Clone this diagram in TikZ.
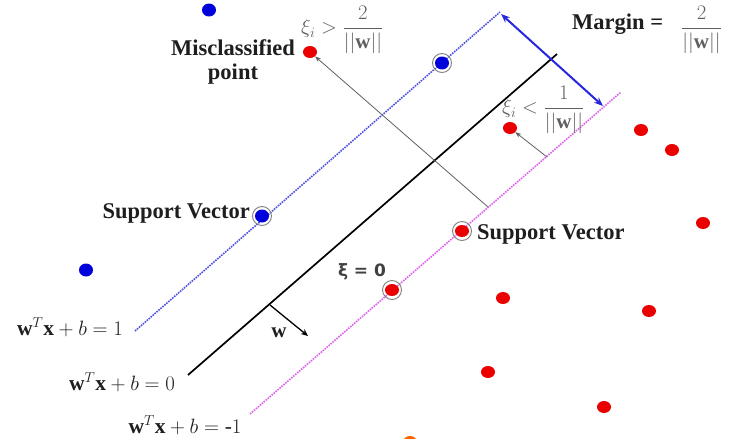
\documentclass[tikz,border=0pt]{standalone}
\usepackage{amsmath}
\usepackage{fontspec}
\setmainfont{Liberation Serif}
\newfontfamily\djsans{DejaVu Sans}
\usetikzlibrary{arrows.meta,shapes.geometric}
\definecolor{dotred}{RGB}{235,0,0}
\definecolor{dotblue}{RGB}{0,0,220}
\definecolor{linblue}{RGB}{80,80,225}
\definecolor{linmag}{RGB}{220,100,235}
\definecolor{mgrey}{RGB}{95,95,95}
\definecolor{txt}{RGB}{30,30,30}
\begin{document}
\begin{tikzpicture}[x=1pt,y=-1pt,
  reddot/.style={ellipse, fill=dotred, minimum width=14pt, minimum height=12pt, inner sep=0pt},
  bluedot/.style={ellipse, fill=dotblue, minimum width=14pt, minimum height=13pt, inner sep=0pt},
  ringed/.style={draw=gray, line width=0.9pt},
  lbl/.style={font=\fontsize{22.5}{24}\selectfont\bfseries, text=txt, inner sep=0pt},
  fm/.style={font=\fontsize{21}{23}\selectfont, text=mgrey, inner sep=0pt},
  eq/.style={font=\fontsize{21.5}{23}\selectfont, text=txt, inner sep=0pt},
  blueline/.style={linblue, line width=1.6pt, densely dotted},
  magline/.style={linmag, line width=1.6pt, densely dotted},
  hyper/.style={black, line width=1.7pt},
  thinarrow/.style={mgrey, line width=0.8pt, -{Stealth[length=6pt,width=4.5pt]}},
]
\useasboundingbox (0,0) rectangle (729,439);

% lines
\coordinate (b1) at (135,331); \coordinate (b2) at (500,12);
\coordinate (k1) at (188,375); \coordinate (k2) at (557,54);
\coordinate (m1) at (250,414); \coordinate (m2) at (621,92);
\draw[blueline] (b1) -- (b2);
\draw[hyper] (k1) -- (k2);
\draw[magline] (m1) -- (m2);

% blue dots
\node[bluedot] (bd1) at (209,10) {};
\node[bluedot] (bd2) at (86,270) {};
\node[bluedot] (bsv1) at (262,216) {};
\node[bluedot] (bsv2) at (442,63) {};
\draw[ringed] (bsv1) circle (9.5pt);
\draw[ringed] (bsv2) circle (9.5pt);

% red dots
\node[reddot] (p1) at (310,52) {};
\node[reddot] (p2) at (510,128) {};
\node[reddot] (p3) at (641,130) {};
\node[reddot] (p4) at (672,150) {};
\node[reddot] (p5) at (703,223) {};
\node[reddot] (rsv1) at (462,231) {};
\node[reddot] (rsv2) at (392,290) {};
\node[reddot] (p6) at (503,298) {};
\node[reddot] (p7) at (649,311) {};
\node[reddot] (p8) at (488,372) {};
\node[reddot] (p9) at (604,407) {};
\node[reddot, fill=orange!80!red] (p10) at (410,442) {};
\draw[ringed] (rsv1) circle (9.5pt);
\draw[ringed] (rsv2) circle (9.5pt);

% margin arrow
\coordinate (ma) at (501,14); \coordinate (mb) at (603,106);
\draw[dotblue!85!white, line width=2pt, {Stealth[length=9pt,width=7pt]}-{Stealth[length=9pt,width=7pt]}] (ma) -- (mb);

% slack arrows
\coordinate (s1) at (488,207);
\draw[thinarrow] (s1) -- (p1);
\coordinate (s2) at (547,157);
\draw[thinarrow] (s2) -- (p2);

% w arrow
\coordinate (wa) at (270,305); \coordinate (wb) at (308,336);
\draw[black, line width=1.3pt, -{Stealth[length=7pt,width=6pt]}] (wa) -- (wb);
\node[eq, font=\fontsize{21}{23}\selectfont\bfseries] (wl) at (279,333) {$\mathbf{w}$};

% labels
\node[lbl, align=center] (mis) at (233,62) {Misclassified\\point};
\node[fm, anchor=west] (xi1) at (301,30) {$\xi_i > \dfrac{2}{||\mathbf{w}||}$};
\node[lbl, anchor=west] (mar) at (572,24) {Margin =};
\node[fm, anchor=west] (marf) at (681,30) {$\dfrac{2}{||\mathbf{w}||}$};
\node[fm, anchor=west] (xi2) at (502,110) {$\xi_i < \dfrac{1}{||\mathbf{w}||}$};
\node[lbl, anchor=east] (svl) at (250,213) {Support Vector};
\node[lbl, anchor=west] (svr) at (477,234) {Support Vector};
\node[font=\djsans\fontsize{17}{20}\selectfont\bfseries, text=txt!85!white, inner sep=0pt] (xi0) at (362,272) {ξ = 0};
\node[eq] (e1) at (70,327) {$\mathbf{w}^T\mathbf{x} + b = 1$};
\node[eq] (e0) at (122,382) {$\mathbf{w}^T\mathbf{x} + b = 0$};
\node[eq] (em) at (185,425) {$\mathbf{w}^T\mathbf{x} + b = \mbox{-}1$};
\end{tikzpicture}
\end{document}
